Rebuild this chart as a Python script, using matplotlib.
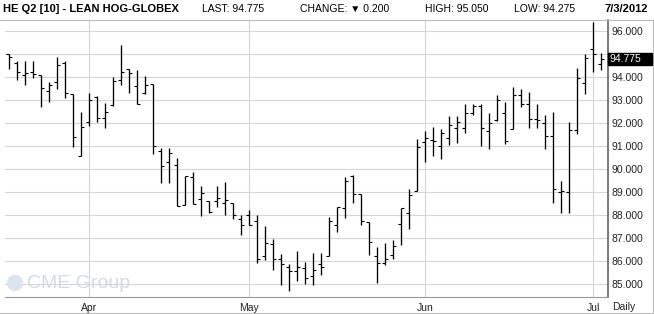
import numpy as np
import pandas as pd
import matplotlib
matplotlib.use("Agg")
import matplotlib.pyplot as plt
from matplotlib.patches import Rectangle, Ellipse

# 1) Daily OHLC values (Mar 19 - Jul 3, 2012)
opens = [94.97, 94.62, 94.06, 94.19, 94.06, 93.39, 93.78, 94.60, 93.26, 90.58,
         92.06, 93.12, 92.22, 92.76, 93.85, 94.32, 93.60, 93.28, 93.67, 90.78,
         90.32, 90.16, 88.43, 89.64, 88.72, 88.62, 88.60, 88.51, 88.52, 87.82,
         88.02, 87.74, 86.23, 86.76, 86.10, 85.77, 85.58, 85.71, 85.35, 85.86,
         86.22, 87.59, 88.31, 89.68, 88.90, 87.72, 86.23, 85.92, 86.29, 87.63,
         88.08, 89.06, 91.16, 91.26, 91.01, 91.33, 91.77, 91.77, 92.45, 92.74,
         91.67, 92.12, 92.45, 91.72, 93.23, 92.84, 92.17, 92.01, 91.41, 89.00,
         88.99, 91.71, 93.75, 95.20, 94.54]
highs = [95.00, 94.67, 94.67, 94.68, 94.06, 93.77, 94.86, 94.67, 93.26, 92.46,
         93.30, 93.17, 92.86, 94.00, 95.38, 94.35, 94.29, 94.03, 93.67, 90.93,
         90.90, 90.49, 89.70, 89.87, 89.27, 88.62, 89.26, 89.43, 88.52, 88.02,
         88.21, 88.00, 87.53, 86.95, 86.33, 85.90, 86.43, 85.96, 86.36, 86.36,
         87.91, 88.37, 89.64, 89.75, 88.90, 87.72, 86.62, 86.81, 86.94, 88.31,
         89.13, 91.30, 91.65, 91.81, 91.72, 92.29, 92.29, 92.80, 92.80, 92.80,
         92.43, 93.23, 92.90, 93.55, 93.48, 93.35, 92.81, 92.33, 92.46, 89.48,
         92.03, 94.36, 95.01, 96.39, 95.05]
lows = [94.33, 93.87, 93.65, 93.94, 92.68, 92.90, 93.46, 93.07, 90.94, 90.55,
        91.88, 92.06, 91.77, 92.73, 93.65, 93.31, 92.80, 93.26, 90.64, 89.41,
        89.41, 88.39, 88.43, 88.47, 87.95, 88.11, 88.37, 88.02, 87.85, 87.12,
        87.57, 85.94, 86.06, 85.61, 84.96, 84.71, 85.12, 85.03, 84.96, 85.42,
        86.22, 87.26, 87.86, 88.51, 87.55, 86.26, 85.05, 85.84, 86.09, 86.70,
        87.39, 89.06, 90.32, 90.57, 90.43, 91.04, 91.14, 91.57, 92.36, 91.00,
        90.87, 92.07, 91.10, 91.72, 92.67, 91.78, 91.78, 90.87, 88.52, 88.09,
        88.09, 91.54, 93.26, 94.19, 94.275]
closes = [94.88, 94.22, 94.16, 94.13, 93.52, 93.65, 94.50, 93.30, 91.39, 91.84,
          93.00, 92.22, 92.48, 93.83, 94.22, 94.17, 92.83, 93.64, 90.98, 90.12,
          90.71, 88.39, 89.70, 88.47, 88.95, 88.14, 88.74, 88.64, 88.02, 87.57,
          87.57, 86.09, 86.79, 86.09, 85.87, 85.58, 85.75, 85.26, 85.63, 85.76,
          87.73, 88.35, 89.49, 88.90, 87.75, 86.85, 85.93, 86.09, 86.64, 88.31,
          88.87, 90.97, 91.33, 91.23, 91.58, 91.90, 92.06, 92.45, 92.74, 91.77,
          92.01, 93.01, 91.22, 93.23, 92.84, 92.17, 92.14, 91.41, 89.14, 89.05,
          91.71, 93.96, 94.83, 94.975, 94.775]

# trading days (CME closed on Good Friday and Memorial Day)
dates = pd.bdate_range("2012-03-19", "2012-07-03")
dates = dates[~dates.isin(pd.to_datetime(["2012-04-06", "2012-05-28"]))]

price_ticks = [85, 86, 87, 88, 89, 90, 91, 92, 93, 94, 95, 96]
month_names = ["Apr", "May", "Jun", "Jul"]
last_price = 94.775

# 2) Figure and axes placed like the CME chart
W, H = 654, 314
fig = plt.figure(figsize=(W / 100, H / 100), dpi=100)
plt.rcParams["font.family"] = ["Liberation Sans", "DejaVu Sans"]

ax_l, ax_r, ax_top, ax_bot = 5, 607.7, 20, 297.3
ax = fig.add_axes([ax_l / W, 1 - ax_bot / H, (ax_r - ax_l) / W, (ax_bot - ax_top) / H])

x = np.arange(len(dates))
ax.set_xlim((ax_l - 9) / 8, (ax_r - 9) / 8)
ax.set_ylim(84.434, 96.464)

# 3) OHLC bars: high-low line, open tick left, close tick right
ax.vlines(x, lows, highs, color="black", linewidth=0.95, zorder=3)
ax.hlines(opens, x - 0.4, x, color="black", linewidth=0.8, zorder=3)
ax.hlines(closes, x, x + 0.4, color="black", linewidth=0.8, zorder=3)

# 4) Grid, axes and labels
month_pos = [i for i in range(1, len(dates)) if dates[i].month != dates[i - 1].month]
ax.set_xticks(month_pos)
ax.set_xticklabels(month_names, fontsize=7.5, color="#222222")
ax.set_yticks(price_ticks)
# the 95.000 label sits under the last-price box, so it is left blank
ax.set_yticklabels(["" if p == 95 else f"{p:.3f}" for p in price_ticks],
                   fontsize=7.5, color="#222222")
ax.yaxis.tick_right()
ax.tick_params(axis="both", length=0)
ax.tick_params(axis="y", pad=3)
ax.tick_params(axis="x", pad=4)
ax.grid(True, color="#d6d6d6", linewidth=0.8)
ax.set_axisbelow(True)
for side in ["left", "top"]:
    ax.spines[side].set_visible(False)
ax.spines["right"].set_color("#555555")
ax.spines["right"].set_linewidth(1.1)
ax.spines["bottom"].set_color("#999999")
ax.spines["bottom"].set_linewidth(0.8)

# CME Group watermark
fig.patches.append(Ellipse((15 / W, 1 - 283 / H), 15 / W, 15 / H,
                           transform=fig.transFigure, color="#dbe5ee", zorder=0.4))
fig.text(27 / W, 1 - 283 / H, "CME Group", fontsize=14, color="#d3dae1",
         va="center", ha="left", zorder=0.5)

# last price box on the right axis
fig.patches.append(Rectangle((608 / W, 1 - 64.5 / H), 44 / W, 12 / H,
                             transform=fig.transFigure, color="black", zorder=5))
fig.text(610 / W, 1 - 58.6 / H, f"{last_price:.3f}", fontsize=7.5, color="white",
         va="center", ha="left", zorder=6)

fig.text(624 / W, 1 - 307 / H, "Daily", fontsize=7.5, color="#222222",
         ha="center", va="center")

# 5) Header
fig.text(3 / W, 1 - 9 / H, "HE Q2 [10] - LEAN HOG-GLOBEX", fontsize=8,
         fontweight="bold", ha="left", va="center")
fig.text(202 / W, 1 - 9 / H, "LAST: 94.775", fontsize=7.5, ha="left", va="center")
fig.text(300 / W, 1 - 9 / H, "CHANGE: \u25bc 0.200", fontsize=7.5, ha="left", va="center",
         family=["Liberation Sans", "DejaVu Sans"])
fig.text(425 / W, 1 - 9 / H, "HIGH: 95.050", fontsize=7.5, ha="left", va="center")
fig.text(514 / W, 1 - 9 / H, "LOW: 94.275", fontsize=7.5, ha="left", va="center")
fig.text(648 / W, 1 - 9 / H, "7/3/2012", fontsize=8, fontweight="bold",
         ha="right", va="center")

# frame lines
for (x0, y0, x1, y1) in [(0, 19.5, W, 19.5), (652.5, 19.5, 652.5, 313), (0, 313, W, 313)]:
    fig.add_artist(plt.Line2D([x0 / W, x1 / W], [1 - y0 / H, 1 - y1 / H],
                              transform=fig.transFigure, color="#bbbbbb", linewidth=0.8))

fig.savefig("out.png", dpi=100)
